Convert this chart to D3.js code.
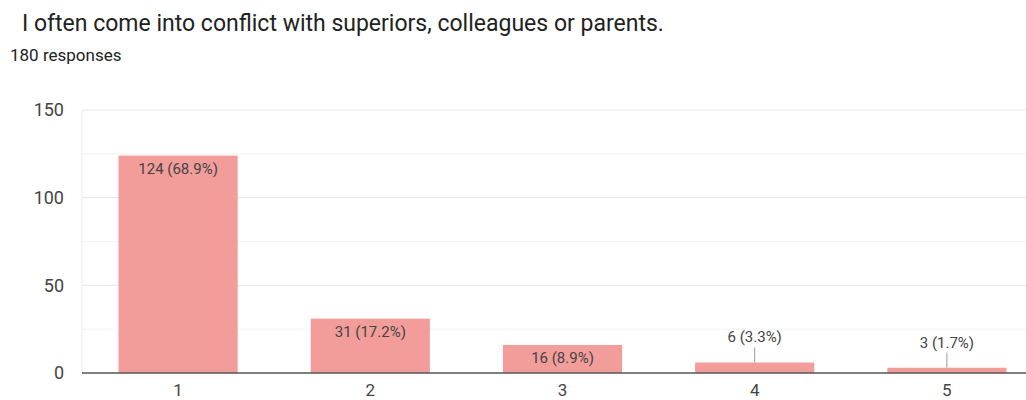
<!DOCTYPE html>
<html>
<head>
<meta charset="utf-8">
<script src="https://cdn.jsdelivr.net/npm/d3@7"></script>
<style>
  html, body { margin: 0; padding: 0; background: #fff; overflow: hidden; }
  svg { display: block; font-family: Roboto, "Liberation Sans", Arial, sans-serif; }
</style>
</head>
<body>
<svg id="chart" width="1026" height="400"></svg>
<script>
// Survey answers on a 1–5 scale
const categories = ["1", "2", "3", "4", "5"];
const counts = [124, 31, 16, 6, 3];
const percents = ["68.9%", "17.2%", "8.9%", "3.3%", "1.7%"];
const yTicks = [0, 50, 100, 150];
const minorTicks = [25, 75, 125];
const title = "I often come into conflict with superiors, colleagues or parents.";
const subtitle = "180 responses";

const svg = d3.select("#chart");
const W = 1026, H = 400;
const plot = { left: 82, right: 1043, top: 110, bottom: 373 };
const FONT = "Roboto, 'Liberation Sans', Arial, sans-serif";

const x = d3.scaleBand().domain(categories).range([plot.left, plot.right]).paddingInner(0.38).paddingOuter(0.19);
const y = d3.scaleLinear().domain([0, 150]).range([plot.bottom, plot.top]);

svg.append("text").attr("x", 22).attr("y", 31)
  .attr("font-size", 23).attr("fill", "#222").text(title);
svg.append("text").attr("x", 10).attr("y", 61)
  .attr("font-size", 17).attr("fill", "#222").text(subtitle);

// Gridlines
const grid = svg.append("g");
grid.selectAll("line.minor").data(minorTicks).join("line")
  .attr("class", "minor")
  .attr("x1", plot.left).attr("x2", W)
  .attr("y1", d => y(d)).attr("y2", d => y(d))
  .attr("stroke", "#f3f3f3").attr("stroke-width", 1);
grid.selectAll("line.major").data(yTicks.filter(d => d > 0)).join("line")
  .attr("class", "major")
  .attr("x1", plot.left).attr("x2", W)
  .attr("y1", d => y(d)).attr("y2", d => y(d))
  .attr("stroke", "#e6e6e6").attr("stroke-width", 1);
// Left edge of the plot area
svg.append("line").attr("x1", plot.left).attr("x2", plot.left)
  .attr("y1", plot.top).attr("y2", plot.bottom)
  .attr("stroke", "#ececec");

// Y axis labels
const yAxis = d3.axisLeft(y).tickValues(yTicks).tickSize(0).tickPadding(18);
const gy = svg.append("g").attr("transform", `translate(${plot.left},0)`).call(yAxis);
gy.select(".domain").remove();
gy.selectAll("text").attr("font-size", 18).attr("fill", "#444").attr("font-family", FONT);

// Bars
svg.append("g").selectAll("rect").data(counts).join("rect")
  .attr("x", (d, i) => x(categories[i]))
  .attr("width", x.bandwidth())
  .attr("y", d => y(d))
  .attr("height", d => y(0) - y(d))
  .attr("fill", "#f29d9a");

// Baseline
svg.append("line").attr("x1", plot.left).attr("x2", W)
  .attr("y1", y(0)).attr("y2", y(0))
  .attr("stroke", "#555").attr("stroke-width", 1.3);

// X axis labels
const xAxis = d3.axisBottom(x).tickSize(0).tickPadding(11);
const gx = svg.append("g").attr("transform", `translate(0,${plot.bottom})`).call(xAxis);
gx.select(".domain").remove();
gx.selectAll("text").attr("font-size", 17).attr("fill", "#444").attr("font-family", FONT);

// Value labels: inside tall bars, above short bars with a leader line
const labels = svg.append("g");
counts.forEach((c, i) => {
  const cx = x(categories[i]) + x.bandwidth() / 2;
  const top = y(c);
  const txt = `${c} (${percents[i]})`;
  if (y(0) - top > 20) {
    labels.append("text").attr("x", cx).attr("y", top + 18)
      .attr("text-anchor", "middle").attr("font-size", 15).attr("fill", "#444").text(txt);
  } else {
    labels.append("line").attr("x1", cx).attr("x2", cx)
      .attr("y1", top - 15).attr("y2", top)
      .attr("stroke", "#999").attr("stroke-width", 1);
    labels.append("text").attr("x", cx).attr("y", top - 20)
      .attr("text-anchor", "middle").attr("font-size", 15).attr("fill", "#444").text(txt);
  }
});
</script>
</body>
</html>
